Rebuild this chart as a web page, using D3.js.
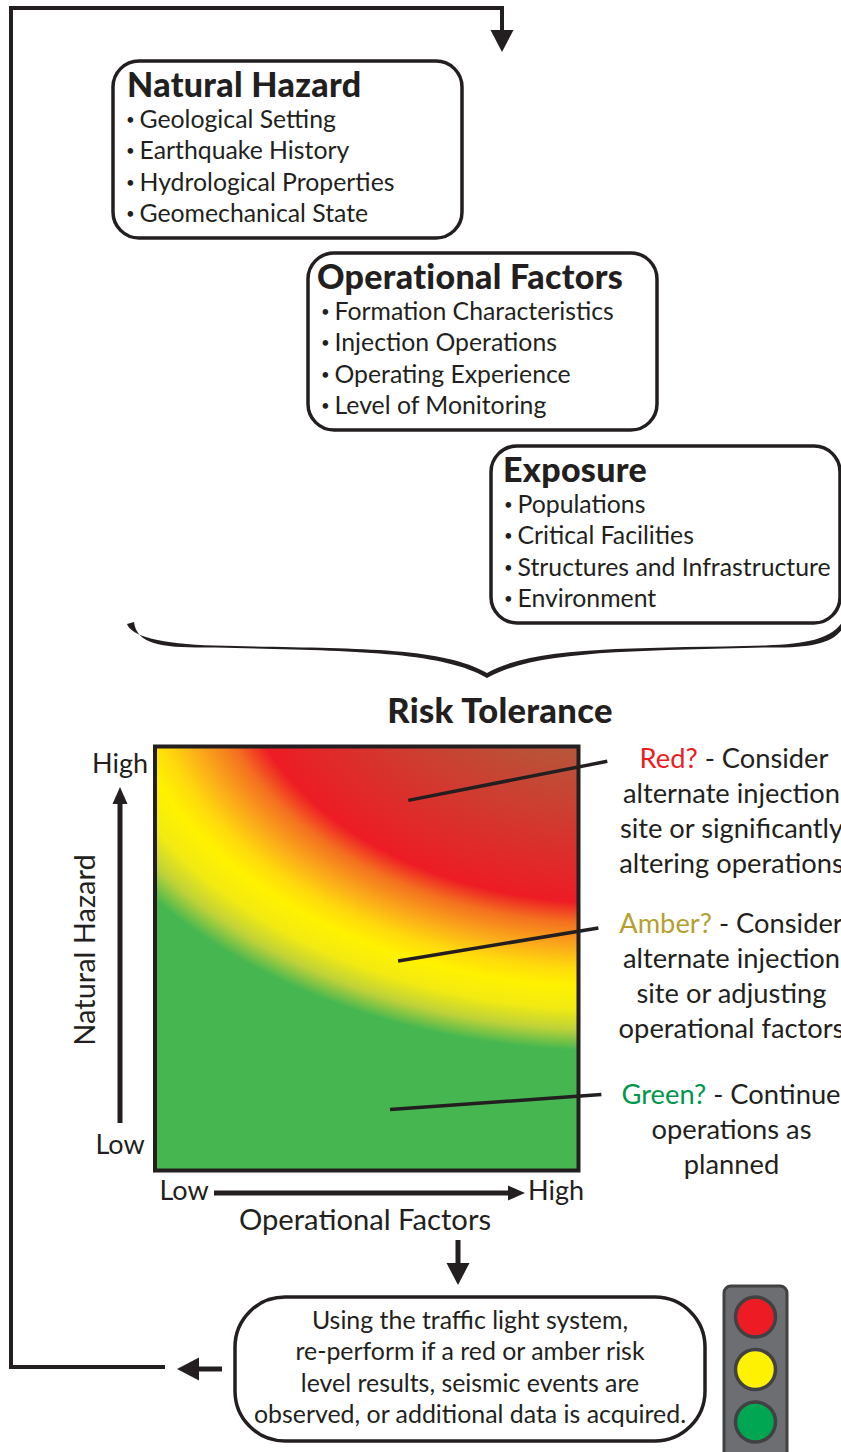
<!DOCTYPE html>
<html>
<head>
<meta charset="utf-8">
<script src="https://d3js.org/d3.v7.min.js"></script>
<style>
html, body { margin: 0; padding: 0; background: #fff; }
svg { display: block; }
text { font-family: Lato, "Open Sans", sans-serif; fill: #231f20; }
</style>
</head>
<body>
<svg id="chart" width="841" height="1452"></svg>
<script>
var width = 841;
var height = 1452;
var ink = "#231f20";

// input boxes
var hazardItems = ["Geological Setting", "Earthquake History", "Hydrological Properties", "Geomechanical State"];
var operationalItems = ["Formation Characteristics", "Injection Operations", "Operating Experience", "Level of Monitoring"];
var exposureItems = ["Populations", "Critical Facilities", "Structures and Infrastructure", "Environment"];

// risk matrix gradient
var riskStopOffsets = [0.26, 0.64, 0.69, 0.75, 0.80, 0.845, 0.90, 0.95, 1];
var riskStopColors = ["#b5573a", "#ed1c24", "#f4701f", "#fbaa1a", "#ffd90c", "#fff200", "#f2ea12", "#bed238", "#46b750"];

// callouts: where each leader starts and ends, in matrix units (0 low, 1 high)
var calloutNames = ["Red?", "Amber?", "Green?"];
var calloutColors = ["#ed1c24", "#b59f32", "#00964b"];
var calloutFromOps = [0.598, 0.574, 0.555];
var calloutFromHazard = [0.873, 0.494, 0.144];
var calloutToOps = [1.068, 1.047, 1.054];
var calloutToHazard = [0.965, 0.572, 0.179];
var calloutHeads = [" - Consider", " - Consider", " - Continue"];
var calloutLines = [
    ["alternate injection", "site or significantly", "altering operations"],
    ["alternate injection", "site or adjusting", "operational factors"],
    ["operations as", "planned"]
];

var feedbackLines = ["Using the traffic light system,", "re-perform if a red or amber risk", "level results, seismic events are", "observed, or additional data is acquired."];
var lightColors = ["#ed1c24", "#fff200", "#00a651"];

var svg = d3.select("#chart");

var x = d3.scaleLinear().domain([0, 1]).range([155, 578.5]);
var y = d3.scaleLinear().domain([0, 1]).range([1170.5, 746.5]);

var defs = svg.append("defs");

function arrowHead(g, tip, dir, len, half) {
    // dir is the unit vector the arrow points along
    var p = d3.path();
    p.moveTo(tip[0], tip[1]);
    p.lineTo(tip[0] - dir[0] * len - dir[1] * half, tip[1] - dir[1] * len - dir[0] * half);
    p.lineTo(tip[0] - dir[0] * len + dir[1] * half, tip[1] - dir[1] * len + dir[0] * half);
    p.closePath();
    g.append("path").attr("d", p.toString()).attr("fill", ink);
}

function stem(g, a, b, w) {
    g.append("line")
        .attr("x1", a[0]).attr("y1", a[1])
        .attr("x2", b[0]).attr("y2", b[1])
        .attr("stroke", ink)
        .attr("stroke-width", w);
}

// feedback loop round the left side
var loop = svg.append("g");
loop.append("path")
    .attr("d", d3.line()([[165, 1367], [11, 1367], [11, 8], [502, 8], [502, 32]]))
    .attr("fill", "none")
    .attr("stroke", ink)
    .attr("stroke-width", 4);
arrowHead(loop, [502, 52], [0, 1], 22, 11.5);
stem(loop, [222, 1369], [196, 1369], 5);
arrowHead(loop, [177, 1369], [-1, 0], 22, 11.5);
stem(loop, [458, 1240], [458, 1265], 5);
arrowHead(loop, [458, 1285], [0, 1], 22, 11.5);

function inputBox(left, top, titleX, title, items) {
    var g = svg.append("g").attr("transform", "translate(" + left + "," + top + ")");
    g.append("rect")
        .attr("width", 349)
        .attr("height", 177)
        .attr("rx", 26)
        .attr("fill", "#fff")
        .attr("stroke", ink)
        .attr("stroke-width", 3.5);
    g.append("text")
        .attr("x", titleX)
        .attr("y", 36)
        .attr("font-size", 34)
        .attr("font-weight", 900)
        .attr("letter-spacing", 0.3)
        .text(title);
    var rowY = d3.scalePoint().domain(items).range([67, 161]);
    g.selectAll(".bullet")
        .data(items)
        .join("text")
        .attr("class", "bullet")
        .attr("x", 13)
        .attr("y", d => rowY(d) - 3)
        .attr("font-size", 15)
        .text("\u2022");
    g.selectAll(".item")
        .data(items)
        .join("text")
        .attr("class", "item")
        .attr("x", 26.5)
        .attr("y", d => rowY(d))
        .attr("font-size", 24.8)
        .text(d => d);
}

inputBox(113, 61, 14, "Natural Hazard", hazardItems);
inputBox(308, 253, 9, "Operational Factors", operationalItems);
inputBox(491, 446, 12, "Exposure", exposureItems);

// curly brace, filled so that it tapers towards the ends
var brace = d3.path();
brace.moveTo(127, 624);
brace.bezierCurveTo(131, 636, 160, 644, 215, 645.5);
brace.bezierCurveTo(340, 649, 440, 645, 487, 673);
brace.bezierCurveTo(535, 645, 640, 649, 765, 645.5);
brace.bezierCurveTo(810, 644, 832, 638, 843, 621);
brace.lineTo(843, 628);
brace.bezierCurveTo(832, 644, 810, 648, 765, 647.5);
brace.bezierCurveTo(640, 651, 535, 650, 487, 678);
brace.bezierCurveTo(440, 650, 340, 651, 215, 647.5);
brace.bezierCurveTo(165, 648, 137, 646, 134, 622);
brace.closePath();
svg.append("path").attr("d", brace.toString()).attr("fill", ink);

svg.append("text")
    .attr("x", 500)
    .attr("y", 723)
    .attr("text-anchor", "middle")
    .attr("font-size", 34.5)
    .attr("font-weight", 900)
    .attr("letter-spacing", 0.3)
    .text("Risk Tolerance");

// risk matrix
var grad = defs.append("radialGradient")
    .attr("id", "risk")
    .attr("gradientUnits", "userSpaceOnUse")
    .attr("cx", 0)
    .attr("cy", 0)
    .attr("r", 410)
    .attr("gradientTransform", "translate(" + x(1.07) + "," + y(1.25) + ") scale(1.426,1)");
grad.selectAll("stop")
    .data(riskStopOffsets)
    .join("stop")
    .attr("offset", d => d)
    .attr("stop-color", (d, i) => riskStopColors[i]);

svg.append("rect")
    .attr("x", x(0))
    .attr("y", y(1))
    .attr("width", x(1) - x(0))
    .attr("height", y(0) - y(1))
    .attr("fill", "url(#risk)")
    .attr("stroke", ink)
    .attr("stroke-width", 4);

// leaders
svg.selectAll(".leader")
    .data(calloutNames)
    .join("line")
    .attr("class", "leader")
    .attr("x1", (d, i) => x(calloutFromOps[i]))
    .attr("y1", (d, i) => y(calloutFromHazard[i]))
    .attr("x2", (d, i) => x(calloutToOps[i]))
    .attr("y2", (d, i) => y(calloutToHazard[i]))
    .attr("stroke", ink)
    .attr("stroke-width", 3.5);

// callout text
var calloutBaselines = [768, 933, 1104];
var calloutHeadX = [734, 731, 731];
calloutNames.forEach(function(name, i) {
    var head = svg.append("text")
        .attr("x", calloutHeadX[i])
        .attr("y", calloutBaselines[i])
        .attr("text-anchor", "middle")
        .attr("font-size", 27.3);
    head.append("tspan").style("fill", calloutColors[i]).text(name);
    head.append("tspan").text(calloutHeads[i]);
    svg.selectAll(".line" + i)
        .data(calloutLines[i])
        .join("text")
        .attr("class", "line" + i)
        .attr("x", 731.5)
        .attr("y", (d, j) => calloutBaselines[i] + 35 * (j + 1))
        .attr("text-anchor", "middle")
        .attr("font-size", 27.3)
        .text(d => d);
});

// matrix axes
svg.append("text").attr("x", 120).attr("y", 773).attr("text-anchor", "middle").attr("font-size", 27).text("High");
svg.append("text").attr("x", 120).attr("y", 1154).attr("text-anchor", "middle").attr("font-size", 27).text("Low");
svg.append("text").attr("x", 184).attr("y", 1200).attr("text-anchor", "middle").attr("font-size", 27).text("Low");
svg.append("text").attr("x", 556).attr("y", 1200).attr("text-anchor", "middle").attr("font-size", 27).text("High");
svg.append("text")
    .attr("transform", "translate(95,950) rotate(-90)")
    .attr("text-anchor", "middle")
    .attr("font-size", 29)
    .text("Natural Hazard");
svg.append("text")
    .attr("x", 365)
    .attr("y", 1230)
    .attr("text-anchor", "middle")
    .attr("font-size", 29.2)
    .text("Operational Factors");

var axes = svg.append("g");
stem(axes, [120, 1123], [120, 802], 5);
arrowHead(axes, [120, 787], [0, -1], 17, 7.5);
stem(axes, [214, 1193], [511, 1193], 5);
arrowHead(axes, [525, 1193], [1, 0], 17, 7.5);

// feedback box
svg.append("rect")
    .attr("x", 235)
    .attr("y", 1297)
    .attr("width", 470)
    .attr("height", 144)
    .attr("rx", 50)
    .attr("fill", "#fff")
    .attr("stroke", ink)
    .attr("stroke-width", 3.5);
var feedbackY = d3.scalePoint().domain(feedbackLines).range([1329, 1423]);
svg.selectAll(".feedback")
    .data(feedbackLines)
    .join("text")
    .attr("class", "feedback")
    .attr("x", 470)
    .attr("y", d => feedbackY(d))
    .attr("text-anchor", "middle")
    .attr("font-size", 24.9)
    .text(d => d);

// traffic light
var light = svg.append("g");
light.append("rect")
    .attr("x", 724)
    .attr("y", 1286)
    .attr("width", 63)
    .attr("height", 190)
    .attr("rx", 7)
    .attr("fill", "#6d6e71")
    .attr("stroke", "#414042")
    .attr("stroke-width", 3);
var lightY = d3.scalePoint().domain(lightColors).range([1317, 1422]);
light.selectAll("circle")
    .data(lightColors)
    .join("circle")
    .attr("cx", 755.5)
    .attr("cy", d => lightY(d))
    .attr("r", 20)
    .attr("fill", d => d)
    .attr("stroke", "#414042")
    .attr("stroke-width", 3.5);
</script>
</body>
</html>
